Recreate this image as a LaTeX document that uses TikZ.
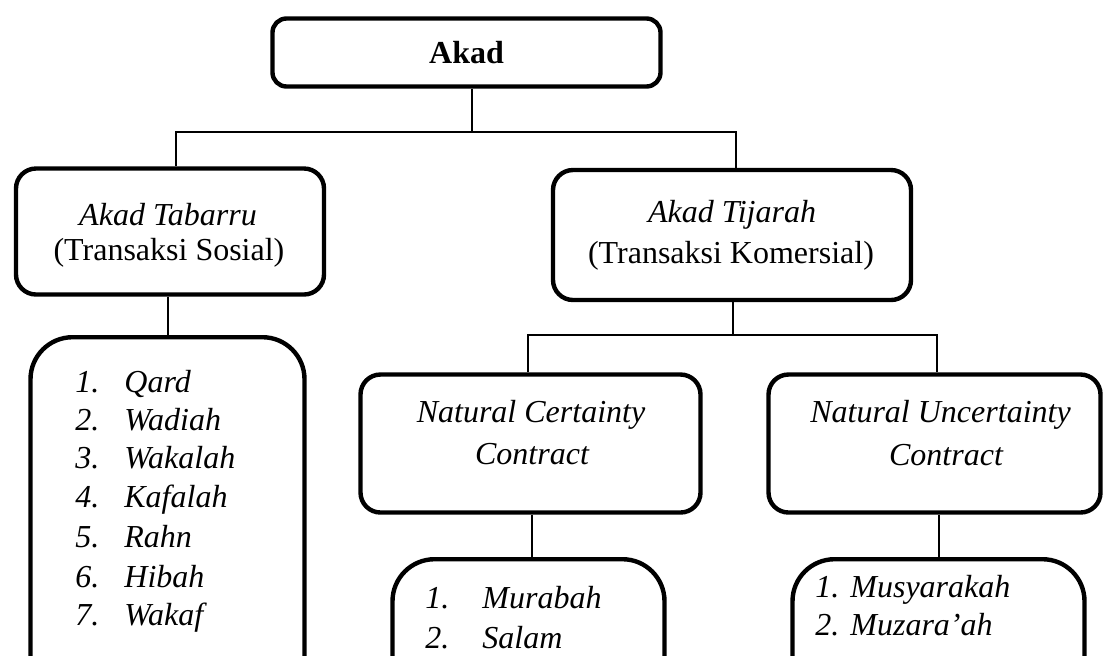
\documentclass[tikz,border=0pt]{standalone}
\usepackage{fontspec}
\setmainfont{Liberation Serif}
\usetikzlibrary{calc}
\tikzset{
  box/.style={draw=black, line width=2.2pt, rounded corners=10pt, inner sep=0pt},
  listbox/.style={box, rounded corners=21pt},
  txt/.style={anchor=base, inner sep=0pt, font=\fontsize{16pt}{19.5pt}\selectfont},
  lst/.style={anchor=base west, inner sep=0pt, font=\fontsize{16pt}{19.5pt}\selectfont\itshape},
  conn/.style={draw=black, line width=1pt}
}
\begin{document}
\begin{tikzpicture}[x=0.5pt,y=-0.5pt]
\useasboundingbox (0,0) rectangle (1106,655);
\clip (0,0) rectangle (1106,655);
% boxes
\node[box, rounded corners=7pt, minimum width=194pt, minimum height=34pt] (akad) at (466.5,52.5) {};
\node[box, minimum width=154pt, minimum height=63pt] (tabarru) at (170,231.5) {};
\node[box, minimum width=179pt, minimum height=65pt] (tijarah) at (732,235) {};
\node[box, minimum width=170pt, minimum height=69pt] (nc) at (530.5,443.5) {};
\node[box, minimum width=166pt, minimum height=69pt] (nu) at (934.5,443.5) {};
\node[listbox, anchor=north, minimum width=137pt, minimum height=200pt] (list1) at (167.5,335) {};
\node[listbox, anchor=north, minimum width=136pt, minimum height=100pt] (list2) at (528.5,557) {};
\node[listbox, anchor=north, minimum width=146pt, minimum height=100pt] (list3) at (938.5,557) {};
% texts
\node[txt, font=\fontsize{16pt}{19.5pt}\selectfont\bfseries] (akadt) at (466.5,63) {Akad};
\node[txt] (tab1) at (168,225) {\itshape Akad Tabarru};
\node[txt] (tab2) at (169,260) {(Transaksi Sosial)};
\node[txt] (tij1) at (732,222) {\itshape Akad Tijarah};
\node[txt] (tij2) at (731,263) {(Transaksi Komersial)};
\node[txt] (nc1) at (531,422) {\itshape Natural Certainty};
\node[txt] (nc2) at (532,464) {\itshape Contract};
\node[txt] (nu1) at (940.5,422) {\itshape Natural Uncertainty};
\node[txt] (nu2) at (946,465) {\itshape Contract};
% list 1
\node[lst] (a1n) at (75,392) {1.}; \node[lst] (a1) at (124,392) {Qard};
\node[lst] (a2n) at (75,430) {2.}; \node[lst] (a2) at (124,430) {Wadiah};
\node[lst] (a3n) at (75,468) {3.}; \node[lst] (a3) at (124,468) {Wakalah};
\node[lst] (a4n) at (75,507) {4.}; \node[lst] (a4) at (124,507) {Kafalah};
\node[lst] (a5n) at (75,547) {5.}; \node[lst] (a5) at (124,547) {Rahn};
\node[lst] (a6n) at (75,587) {6.}; \node[lst] (a6) at (124,587) {Hibah};
\node[lst] (a7n) at (75,625) {7.}; \node[lst] (a7) at (124,625) {Wakaf};
% list 2
\node[lst] (b1n) at (425,608) {1.}; \node[lst] (b1) at (482,608) {Murabah};
\node[lst] (b2n) at (425,648) {2.}; \node[lst] (b2) at (482,648) {Salam};
% list 3
\node[lst] (c1n) at (815,597) {1.}; \node[lst] (c1) at (850,597) {Musyarakah};
\node[lst] (c2n) at (815,635) {2.}; \node[lst] (c2) at (850,635) {Muzara'ah};
% connectors
\coordinate (j1) at (472,132);
\coordinate (h1l) at (176,132);
\coordinate (h1r) at (736,132);
\draw[conn] (j1 |- akad.south) -- (j1);
\draw[conn] (tabarru.north -| h1l) -- (h1l) -- (h1r) -- (tijarah.north -| h1r);
\coordinate (j2) at (733,335);
\coordinate (h2l) at (528,335);
\coordinate (h2r) at (937,335);
\draw[conn] (j2 |- tijarah.south) -- (j2);
\draw[conn] (nc.north -| h2l) -- (h2l) -- (h2r) -- (nu.north -| h2r);
\coordinate (j3) at (168,333);
\draw[conn] (tabarru.south -| j3) -- (list1.north -| j3);
\coordinate (j4) at (532,555);
\draw[conn] (nc.south -| j4) -- (list2.north -| j4);
\coordinate (j5) at (939,555);
\draw[conn] (nu.south -| j5) -- (list3.north -| j5);
\end{tikzpicture}
\end{document}
